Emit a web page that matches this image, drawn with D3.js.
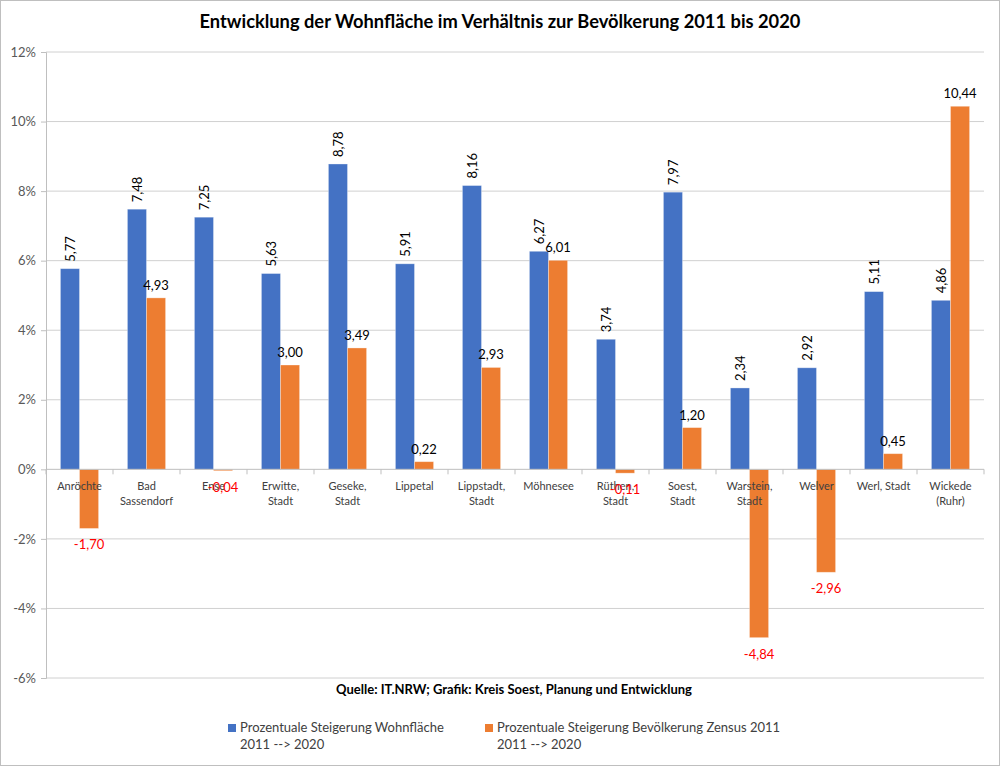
<!DOCTYPE html>
<html lang="de">
  <head>
    <meta charset="UTF-8" />
    <title>Entwicklung der Wohnfläche</title>
    <script src="https://d3js.org/d3.v7.min.js"></script>
    <style>
      body { margin: 0; background: #fff; }
      svg { font-family: Lato, "Open Sans", sans-serif; }
    </style>
  </head>
  <body>
    <svg width="1000" height="766"></svg>
    <script>
      // Data
      const categories = [
        ["Anröchte"], ["Bad", "Sassendorf"], ["Ense"], ["Erwitte,", "Stadt"],
        ["Geseke,", "Stadt"], ["Lippetal"], ["Lippstadt,", "Stadt"], ["Möhnesee"],
        ["Rüthen,", "Stadt"], ["Soest,", "Stadt"], ["Warstein,", "Stadt"],
        ["Welver"], ["Werl, Stadt"], ["Wickede", "(Ruhr)"],
      ];
      const wohnflaeche = [5.77, 7.48, 7.25, 5.63, 8.78, 5.91, 8.16, 6.27, 3.74, 7.97, 2.34, 2.92, 5.11, 4.86];
      const bevoelkerung = [-1.70, 4.93, -0.04, 3.00, 3.49, 0.22, 2.93, 6.01, -0.11, 1.20, -4.84, -2.96, 0.45, 10.44];
      const yTicks = [-6, -4, -2, 0, 2, 4, 6, 8, 10, 12];
      const seriesNames = [
        ["Prozentuale Steigerung Wohnfläche", "2011 --> 2020"],
        ["Prozentuale Steigerung Bevölkerung Zensus 2011", "2011 --> 2020"],
      ];
      const colors = ["#4472C4", "#ED7D31"];

      const svg = d3.select("svg");
      const fmt = (v) => v.toFixed(2).replace(".", ",");

      // Outer frame
      svg.append("rect")
        .attr("x", 0.5).attr("y", 0.5)
        .attr("width", 999).attr("height", 765)
        .attr("fill", "#fff").attr("stroke", "#bfbfbf");

      const plotL = 46, plotR = 984, plotT = 52, plotB = 678;
      const idx = d3.range(categories.length);

      const x = d3.scaleBand().domain(idx).range([plotL, plotR]).paddingInner(0.43).paddingOuter(0.215);
      const xCat = d3.scaleBand().domain(idx).range([plotL, plotR]);
      const y = d3.scaleLinear().domain([-6, 12]).range([plotB, plotT]);
      const xs = d3.scaleBand().domain([0, 1]).range([0, x.bandwidth()]);

      // Gridlines
      svg.append("g")
        .selectAll("line")
        .data(yTicks.filter((t) => t !== 0))
        .join("line")
        .attr("x1", plotL).attr("x2", plotR)
        .attr("y1", (d) => y(d)).attr("y2", (d) => y(d))
        .attr("stroke", "#d0d0d0");

      // Y axis
      const yAxis = svg.append("g")
        .attr("transform", `translate(${plotL},0)`)
        .call(d3.axisLeft(y).tickValues(yTicks).tickSize(5).tickFormat((d) => d + "%"));
      yAxis.select(".domain").attr("stroke", "#bfbfbf");
      yAxis.selectAll(".tick line").attr("stroke", "#bfbfbf");
      yAxis.selectAll("text")
        .attr("x", -10)
        .attr("fill", "#595959")
        .style("font-size", "13px")
        .style("font-family", "Lato, sans-serif");

      // Title
      svg.append("text")
        .attr("x", 500).attr("y", 28)
        .attr("text-anchor", "middle")
        .style("font-size", "18.3px")
        .style("font-weight", "bold")
        .attr("fill", "#000")
        .text("Entwicklung der Wohnfläche im Verhältnis zur Bevölkerung 2011 bis 2020");

      // Bars
      const series = [wohnflaeche, bevoelkerung];
      series.forEach((vals, s) => {
        svg.append("g")
          .selectAll("rect")
          .data(vals)
          .join("rect")
          .attr("x", (d, i) => x(i) + xs(s))
          .attr("width", xs.bandwidth())
          .attr("y", (d) => y(Math.max(0, d)))
          .attr("height", (d) => Math.max(1, Math.abs(y(d) - y(0))))
          .attr("fill", colors[s])
          .attr("stroke", "#fff")
          .attr("stroke-opacity", 0.4)
          .attr("stroke-width", 0.8);
      });

      // Zero axis line with ticks at category boundaries
      const xAxis = svg.append("g")
        .attr("transform", `translate(0,${y(0)})`);
      xAxis.append("line")
        .attr("x1", plotL).attr("x2", plotR)
        .attr("stroke", "#bfbfbf");
      xAxis.selectAll("line.tk")
        .data(idx.concat([categories.length]))
        .join("line")
        .attr("class", "tk")
        .attr("x1", (d) => plotL + d * xCat.step())
        .attr("x2", (d) => plotL + d * xCat.step())
        .attr("y1", 0).attr("y2", 5)
        .attr("stroke", "#bfbfbf");

      // Category labels
      const catText = svg.append("g")
        .selectAll("text")
        .data(categories)
        .join("text")
        .attr("x", (d, i) => xCat(i) + xCat.bandwidth() / 2)
        .attr("y", y(0) + 21)
        .attr("text-anchor", "middle")
        .attr("fill", "#404040")
        .style("font-size", "11px");
      catText.selectAll("tspan")
        .data((d) => d)
        .join("tspan")
        .attr("x", function () { return d3.select(this.parentNode).attr("x"); })
        .attr("dy", (d, i) => (i === 0 ? 0 : 15))
        .text((d) => d);

      // Blue labels (rotated)
      svg.append("g")
        .selectAll("text")
        .data(wohnflaeche)
        .join("text")
        .attr("transform", (d, i) => `translate(${x(i) + xs(0) + xs.bandwidth() / 2 + 5},${y(d) - 7}) rotate(-90)`)
        .attr("text-anchor", "start")
        .attr("fill", "#000")
        .style("font-size", "13px")
        .text(fmt);

      // Orange labels
      svg.append("g")
        .selectAll("text")
        .data(bevoelkerung)
        .join("text")
        .attr("x", (d, i) => x(i) + xs(1) + xs.bandwidth() / 2)
        .attr("y", (d) => (d >= 0 ? y(d) - 8 : y(d) + 21))
        .attr("text-anchor", "middle")
        .attr("fill", (d) => (d >= 0 ? "#000" : "#ff0000"))
        .style("font-size", "13px")
        .text(fmt);

      // Source
      svg.append("text")
        .attr("x", 514).attr("y", 694)
        .attr("text-anchor", "middle")
        .style("font-size", "13px")
        .style("font-weight", "bold")
        .text("Quelle: IT.NRW; Grafik: Kreis Soest, Planung und Entwicklung");

      // Legend
      const legendX = [228, 485];
      const legend = svg.append("g")
        .selectAll("g")
        .data(seriesNames)
        .join("g")
        .attr("transform", (d, i) => `translate(${legendX[i]},722)`);
      legend.append("rect")
        .attr("width", 8).attr("height", 8)
        .attr("y", 2)
        .attr("fill", (d, i) => colors[i]);
      legend.append("text")
        .attr("x", 12).attr("y", 10)
        .attr("fill", "#404040")
        .style("font-size", "13px")
        .selectAll("tspan")
        .data((d) => d)
        .join("tspan")
        .attr("x", 12)
        .attr("dy", (d, i) => (i === 0 ? 0 : 17))
        .text((d) => d);
    </script>
  </body>
</html>
